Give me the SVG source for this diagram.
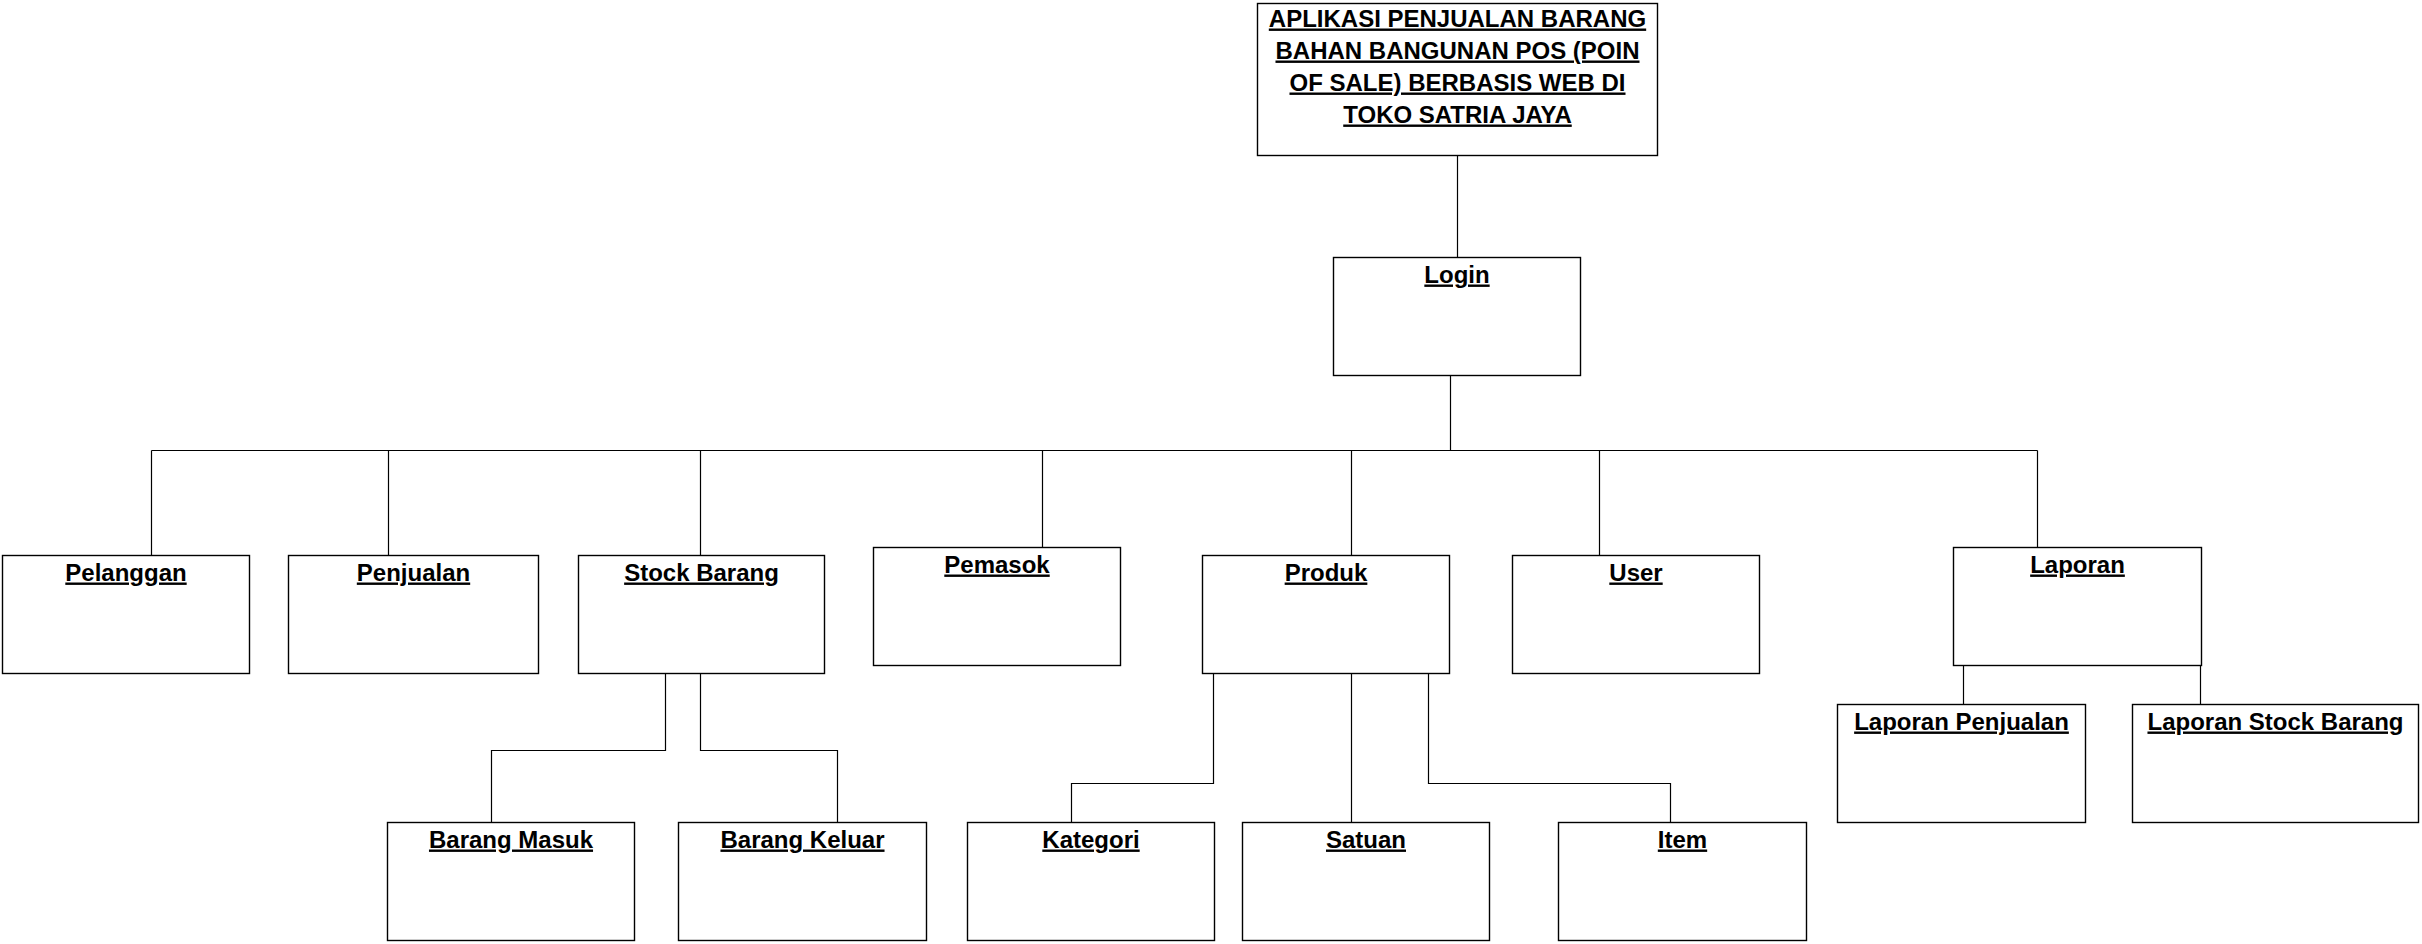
<svg xmlns="http://www.w3.org/2000/svg" width="2422" height="944" viewBox="0 0 2422 944">
<style>
.box{fill:#fff;stroke:#000;stroke-width:1.4}
.lbl{font-family:"Liberation Sans",Arial,sans-serif;font-size:24px;font-weight:bold;fill:#000;text-anchor:middle;text-decoration:underline}
.con{fill:none;stroke:#000;stroke-width:1.2}
</style>
<rect width="2422" height="944" fill="#fff"/>
<g id="connectors">
<path class="con" d="M1457.5 156V257"/>
<path class="con" d="M1450.5 376V450.5"/>
<path class="con" d="M151.5 450.5H2037.5"/>
<path class="con" d="M151.5 450.5V555M388.5 450.5V555M700.5 450.5V555M1042.5 450.5V547M1351.5 450.5V555M1599.5 450.5V555M2037.5 450.5V547"/>
<path class="con" d="M665.5 674V750.5H491.5V822"/>
<path class="con" d="M700.5 674V750.5H837.5V822"/>
<path class="con" d="M1213.5 674V783.5H1071.5V822"/>
<path class="con" d="M1351.5 674V822"/>
<path class="con" d="M1428.5 674V783.5H1670.5V822"/>
<path class="con" d="M1963.5 666V704"/>
<path class="con" d="M2200.5 666V704"/>
</g>
<g id="node-title">
<rect class="box" x="1257.5" y="3.5" width="400" height="152"/>
<text class="lbl" x="1457.5" y="26.5">APLIKASI PENJUALAN BARANG</text>
<text class="lbl" x="1457.5" y="58.5">BAHAN BANGUNAN POS (POIN</text>
<text class="lbl" x="1457.5" y="90.5">OF SALE) BERBASIS WEB DI</text>
<text class="lbl" x="1457.5" y="122.5">TOKO SATRIA JAYA</text>
</g>
<g id="node-login">
<rect class="box" x="1333.5" y="257.5" width="247" height="118"/>
<text class="lbl" x="1457" y="282.5">Login</text>
</g>
<g id="node-pelanggan">
<rect class="box" x="2.5" y="555.5" width="247" height="118"/>
<text class="lbl" x="126" y="580.5">Pelanggan</text>
</g>
<g id="node-penjualan">
<rect class="box" x="288.5" y="555.5" width="250" height="118"/>
<text class="lbl" x="413.5" y="580.5">Penjualan</text>
</g>
<g id="node-stock-barang">
<rect class="box" x="578.5" y="555.5" width="246" height="118"/>
<text class="lbl" x="701.5" y="580.5">Stock Barang</text>
</g>
<g id="node-pemasok">
<rect class="box" x="873.5" y="547.5" width="247" height="118"/>
<text class="lbl" x="997" y="572.5">Pemasok</text>
</g>
<g id="node-produk">
<rect class="box" x="1202.5" y="555.5" width="247" height="118"/>
<text class="lbl" x="1326" y="580.5">Produk</text>
</g>
<g id="node-user">
<rect class="box" x="1512.5" y="555.5" width="247" height="118"/>
<text class="lbl" x="1636" y="580.5">User</text>
</g>
<g id="node-laporan">
<rect class="box" x="1953.5" y="547.5" width="248" height="118"/>
<text class="lbl" x="2077.5" y="572.5">Laporan</text>
</g>
<g id="node-barang-masuk">
<rect class="box" x="387.5" y="822.5" width="247" height="118"/>
<text class="lbl" x="511" y="847.5">Barang Masuk</text>
</g>
<g id="node-barang-keluar">
<rect class="box" x="678.5" y="822.5" width="248" height="118"/>
<text class="lbl" x="802.5" y="847.5">Barang Keluar</text>
</g>
<g id="node-kategori">
<rect class="box" x="967.5" y="822.5" width="247" height="118"/>
<text class="lbl" x="1091" y="847.5">Kategori</text>
</g>
<g id="node-satuan">
<rect class="box" x="1242.5" y="822.5" width="247" height="118"/>
<text class="lbl" x="1366" y="847.5">Satuan</text>
</g>
<g id="node-item">
<rect class="box" x="1558.5" y="822.5" width="248" height="118"/>
<text class="lbl" x="1682.5" y="847.5">Item</text>
</g>
<g id="node-laporan-penjualan">
<rect class="box" x="1837.5" y="704.5" width="248" height="118"/>
<text class="lbl" x="1961.5" y="729.5">Laporan Penjualan</text>
</g>
<g id="node-laporan-stock-barang">
<rect class="box" x="2132.5" y="704.5" width="286" height="118"/>
<text class="lbl" x="2275.5" y="729.5">Laporan Stock Barang</text>
</g>
</svg>
